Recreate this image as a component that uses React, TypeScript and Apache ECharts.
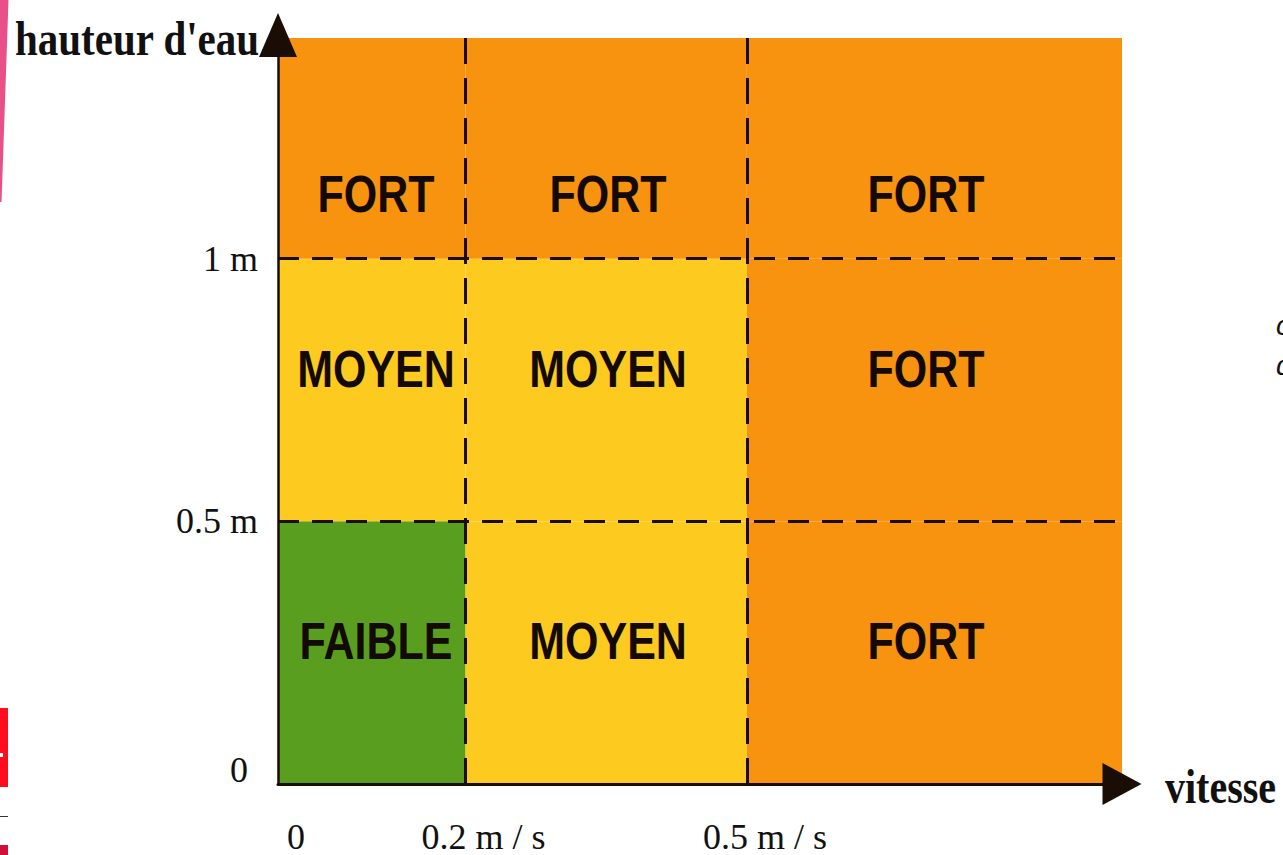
import React, { useEffect, useRef } from "react";
import * as echarts from "echarts";

// ---- data ----
const xEdges = [0, 0.2, 0.5, 0.9]; // vitesse (m/s) column boundaries
const yEdges = [0, 0.5, 1, 1.42]; // hauteur d'eau (m) row boundaries
const riskRows = [
  ["FAIBLE", "MOYEN", "FORT"], // 0 - 0.5 m
  ["MOYEN", "MOYEN", "FORT"], // 0.5 - 1 m
  ["FORT", "FORT", "FORT"], // > 1 m
];
const rowLabelY = [0.273, 0.79, 1.123];
const colLabelX = [0.1045, 0.352, 0.691];
const levelColors: Record<string, string> = {
  FAIBLE: "#5A9E1F",
  MOYEN: "#FDCB1F",
  FORT: "#F7930F",
};
const xThresholds = [0.2, 0.5];
const yThresholds = [0.5, 1];
const xTickValues = [0, 0.2, 0.5];
const xTickLabels = ["0", "0.2 m / s", "0.5 m / s"];
const yTickValues = [0, 0.5, 1];
const yTickLabels = ["0", "0.5 m", "1 m"];
const xAxisTitle = "vitesse";
const yAxisTitle = "hauteur d'eau";

type Cell = { x0: number; x1: number; y0: number; y1: number; lx: number; ly: number; level: string };
const cells: Cell[] = [];
riskRows.forEach((row, r) =>
  row.forEach((level, c) =>
    cells.push({
      x0: xEdges[c],
      x1: xEdges[c + 1],
      y0: yEdges[r],
      y1: yEdges[r + 1],
      lx: colLabelX[c],
      ly: rowLabelY[r],
      level,
    })
  )
);

const findLabel = (vals: number[], labels: string[], v: number) => {
  const i = vals.findIndex((t) => Math.abs(t - v) < 1e-6);
  return i >= 0 ? labels[i] : "";
};

const SERIF = '"Liberation Serif", "Times New Roman", serif';
const SANS = '"Liberation Sans", Arial, sans-serif';
const INK = "#1a0d06";

export default function App() {
  const ref = useRef<HTMLDivElement>(null);
  useEffect(() => {
    if (!ref.current) return;
    const chart = echarts.init(ref.current, null, { renderer: "svg" });
    const dash = { color: INK, width: 3 };
    chart.setOption({
      animation: false,
      backgroundColor: "#ffffff",
      grid: { left: 278, right: 161, top: 38, bottom: 70, containLabel: false },
      xAxis: {
        type: "value",
        min: 0,
        max: xEdges[xEdges.length - 1],
        interval: 0.1,
        z: 10,
        splitLine: { show: false },
        axisTick: { show: false },
        axisLine: {
          show: true,
          onZero: false,
          symbol: ["none", "triangle"],
          symbolSize: [42, 39],
          lineStyle: { color: INK, width: 3 },
        },
        axisLabel: {
          margin: 35,
          fontFamily: SERIF,
          fontSize: 36,
          color: "#111",
          padding: [0, 0, 0, 36],
          showMaxLabel: false,
          formatter: (v: number) => findLabel(xTickValues, xTickLabels, v),
        },
      },
      yAxis: {
        type: "value",
        min: 0,
        max: yEdges[yEdges.length - 1],
        interval: 0.5,
        z: 10,
        splitLine: { show: false },
        axisTick: { show: false },
        axisLine: {
          show: true,
          onZero: false,
          symbol: ["none", "triangle"],
          symbolSize: [38, 44],
          symbolOffset: [0, 3],
          lineStyle: { color: INK, width: 2.5 },
        },
        axisLabel: {
          margin: 20,
          fontFamily: SERIF,
          fontSize: 36,
          color: "#111",
          showMaxLabel: false,
          formatter: (v: number) => {
            const s = findLabel(yTickValues, yTickLabels, v);
            return v === 0 ? "{z|" + s + "}" : s;
          },
          rich: {
            z: { fontFamily: SERIF, fontSize: 36, color: "#111", padding: [0, 10, 28, 0] },
          },
        },
      },
      series: [
        {
          type: "custom",
          z: 2,
          encode: { x: [0, 1], y: [2, 3] },
          data: cells.map((c) => [c.x0, c.x1, c.y0, c.y1]),
          renderItem: (params: any, api: any) => {
            const d = cells[params.dataIndex];
            const p0 = api.coord([d.x0, d.y1]);
            const p1 = api.coord([d.x1, d.y0]);
            const lp = api.coord([d.lx, d.ly]);
            return {
              type: "group",
              children: [
                {
                  type: "rect",
                  shape: { x: p0[0], y: p0[1], width: p1[0] - p0[0], height: p1[1] - p0[1] },
                  style: { fill: levelColors[d.level] },
                },
                {
                  type: "text",
                  x: lp[0],
                  y: lp[1],
                  scaleY: 1.2,
                  style: {
                    text: d.level,
                    fill: "#140a05",
                    font: "bold 43px " + SANS,
                    align: "center",
                    verticalAlign: "middle",
                  },
                },
              ],
            };
          },
        },
        {
          type: "line",
          data: [],
          z: 5,
          markLine: {
            silent: true,
            symbol: "none",
            label: { show: false },
            z: 5,
            data: [
              ...xThresholds.map((v) => ({
                xAxis: v,
                lineStyle: { ...dash, type: [26, 14] },
              })),
              ...yThresholds.map((v) => ({
                yAxis: v,
                lineStyle: { ...dash, type: [21, 13] },
              })),
            ],
          },
        },
      ],
      graphic: [
        {
          type: "text",
          x: 15,
          y: 39,
          scaleY: 1.2,
          style: {
            text: yAxisTitle,
            font: "bold 41px " + SERIF,
            fill: "#111",
            verticalAlign: "middle",
          },
        },
        {
          type: "text",
          x: 1165,
          y: 787,
          scaleY: 1.2,
          style: {
            text: xAxisTitle,
            font: "bold 40px " + SERIF,
            fill: "#111",
            verticalAlign: "middle",
          },
        },
        {
          type: "polygon",
          shape: { points: [[0, 0], [8.5, 0], [1.5, 202], [0, 202]] },
          style: { fill: "#E9508A" },
        },
        { type: "rect", shape: { x: 0, y: 708, width: 8, height: 79 }, style: { fill: "#FF0D1F" } },
        { type: "rect", shape: { x: 0, y: 753, width: 3, height: 4 }, style: { fill: "#ffffff" } },
        { type: "rect", shape: { x: 0, y: 816, width: 8, height: 1 }, style: { fill: "#333" } },
        { type: "rect", shape: { x: 0, y: 845, width: 8, height: 10 }, style: { fill: "#D0103A" } },
        {
          type: "text",
          x: 1276,
          y: 325,
          style: { text: "c", font: "italic 28px " + SANS, fill: "#111", verticalAlign: "middle" },
        },
        {
          type: "text",
          x: 1276,
          y: 365,
          style: { text: "d", font: "italic 28px " + SANS, fill: "#111", verticalAlign: "middle" },
        },
      ],
    });
    return () => chart.dispose();
  }, []);
  return (
    <div
      ref={ref}
      style={{ position: "fixed", left: 0, top: 0, width: 1283, height: 855, background: "#fff" }}
    />
  );
}
